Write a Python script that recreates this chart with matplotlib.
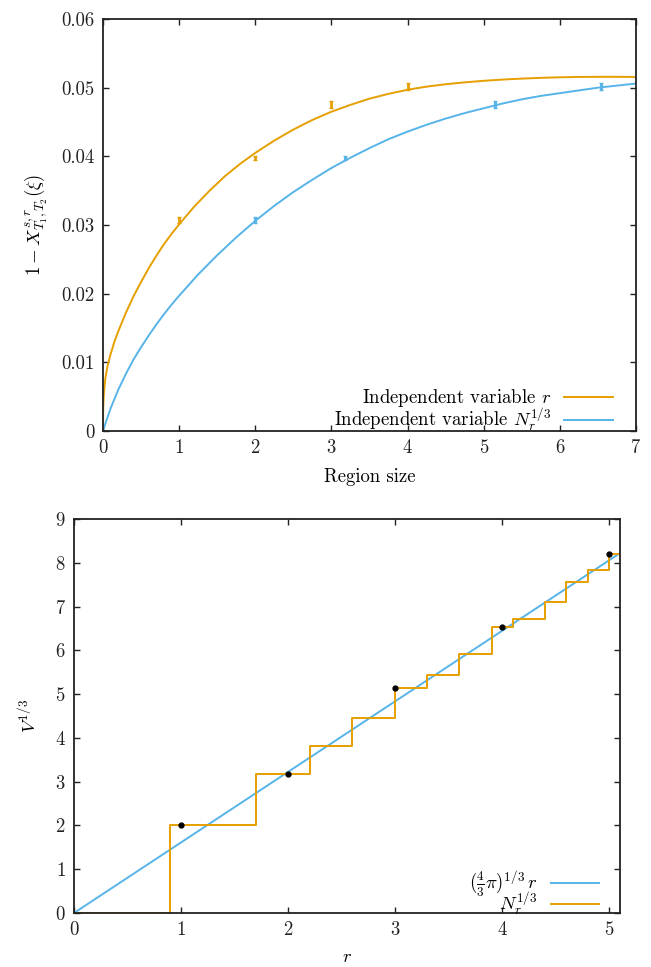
import matplotlib
matplotlib.use("Agg")
import matplotlib.pyplot as plt
import numpy as np

plt.rcParams["font.family"] = "serif"
plt.rcParams["font.serif"] = ["cmr10"]
plt.rcParams["mathtext.fontset"] = "cm"
plt.rcParams["axes.formatter.use_mathtext"] = True
plt.rcParams["font.size"] = 13.5

ORANGE = "#E69F00"
BLUE = "#56B4E9"

# measured deficit vs region size r = 1..4
r_sizes = np.array([1, 2, 3, 4])
deficit = np.array([0.0307, 0.0398, 0.0475, 0.0502])
deficit_err = np.array([0.0004, 0.0003, 0.0005, 0.0005])

# lattice point counts N_r inside radius r (step function)
r_edges = np.array([0, 0.9, 1.7, 2.2, 2.6, 3.0, 3.3, 3.6, 3.9, 4.1, 4.4, 4.6, 4.8, 5.0, 5.1])
N_counts = np.array([0, 8, 32, 56, 88, 136, 160, 208, 280, 304, 360, 432, 480, 552, 552])
N_at_r = np.array([8, 32, 136, 280, 552])   # N_r at r = 1..5

# fitted curve, independent variable r
fit_r_x = [0.0, 0.003, 0.01, 0.03, 0.06, 0.1, 0.15, 0.2, 0.3, 0.4, 0.5, 0.6, 0.7,
           0.8, 0.9, 1.0, 1.2, 1.4, 1.6, 1.8, 2.0, 2.25, 2.5, 2.75, 3.0, 3.25,
           3.5, 3.75, 4.0, 4.25, 4.5, 4.75, 5.0, 5.25, 5.5, 5.75, 6.0, 6.25,
           6.5, 6.75, 7.0]
fit_r_y = [0.0, 0.0033, 0.0052, 0.0076, 0.0095, 0.0112, 0.0130, 0.0145, 0.0172,
           0.0196, 0.0217, 0.0237, 0.0255, 0.0272, 0.0287, 0.0301, 0.0327, 0.0350,
           0.0371, 0.0389, 0.0405, 0.0423, 0.0439, 0.0453, 0.0465, 0.0475, 0.0484,
           0.0491, 0.0497, 0.05015, 0.0505, 0.05077, 0.05100, 0.05118, 0.05132,
           0.05143, 0.05151, 0.05156, 0.05158, 0.05158, 0.05156]

# fitted curve, independent variable N_r^(1/3)
fit_n_x = [0.0, 0.05, 0.1, 0.2, 0.3, 0.4, 0.5, 0.6, 0.7, 0.8, 0.9, 1.0, 1.25, 1.5,
           1.75, 2.0, 2.25, 2.5, 2.75, 3.0, 3.25, 3.5, 3.75, 4.0, 4.25, 4.5,
           4.75, 5.0, 5.25, 5.5, 5.75, 6.0, 6.25, 6.5, 6.75, 7.0]
fit_n_y = [0.0, 0.0017, 0.0033, 0.0060, 0.0083, 0.0104, 0.0122, 0.0139, 0.0155,
           0.0170, 0.0184, 0.0197, 0.0228, 0.0256, 0.0282, 0.0306, 0.0328, 0.0348,
           0.0366, 0.0383, 0.0398, 0.0412, 0.0425, 0.0436, 0.0446, 0.0455, 0.0463,
           0.0470, 0.0477, 0.0483, 0.0488, 0.0492, 0.0496, 0.0500, 0.0503, 0.0506]

sphere_coef = (4.0 / 3.0 * np.pi) ** (1.0 / 3.0)

fig = plt.figure(figsize=(6.51, 9.67), dpi=100)
ax1 = fig.add_axes([103 / 651, 1 - 431 / 967, 533 / 651, 412 / 967])
ax2 = fig.add_axes([74 / 651, 1 - 913 / 967, 546 / 651, 394 / 967])


def style(ax):
    ax.tick_params(direction="in", top=True, right=True, length=4, width=1,
                   colors="#222222", pad=6)
    for s in ax.spines.values():
        s.set_linewidth(1.3)
        s.set_color("#222222")


legend_kw = dict(loc="lower right", frameon=False, markerfirst=False,
                 handlelength=2.6, handletextpad=0.7, borderpad=0.0,
                 borderaxespad=0.0)

# top panel
ax1.plot(fit_r_x, fit_r_y, color=ORANGE, lw=1.4, label="Independent variable $r$")
ax1.plot(fit_n_x, fit_n_y, color=BLUE, lw=1.4,
         label="Independent variable $N_r^{1/3}$")
ax1.errorbar(r_sizes, deficit, yerr=deficit_err, fmt="none", ecolor=ORANGE,
             elinewidth=2, capsize=1.5, capthick=1)
ax1.errorbar(np.cbrt(N_at_r[:4]), deficit, yerr=deficit_err, fmt="none",
             ecolor=BLUE, elinewidth=2.2, capsize=1.5, capthick=1)
ax1.set_xlim(0, 7)
ax1.set_ylim(0, 0.06)
ax1.set_xticks(range(8))
ax1.set_yticks([0, 0.01, 0.02, 0.03, 0.04, 0.05, 0.06])
ax1.set_yticklabels(["0", "0.01", "0.02", "0.03", "0.04", "0.05", "0.06"])
ax1.set_xlabel("Region size", labelpad=8)
ax1.set_ylabel(r"$1 - X^{s,r}_{T_1,T_2}(\xi)$", labelpad=8)
style(ax1)
ax1.legend(bbox_to_anchor=(0.957, -0.008), labelspacing=-0.12, **legend_kw)

# bottom panel
ax2.plot([0, 5.1], [0, sphere_coef * 5.1], color=BLUE, lw=1.4,
         label=r"$(\frac{4}{3}\pi)^{1/3}\,r$")
ax2.step(r_edges, np.cbrt(N_counts), where="post", color=ORANGE, lw=1.4,
         label=r"$N_r^{1/3}$")
ax2.plot(np.arange(1, 6), np.cbrt(N_at_r), "o", color="black", ms=3.5)
ax2.set_xlim(0, 5.1)
ax2.set_ylim(0, 9)
ax2.set_xticks(range(6))
ax2.set_yticks(range(10))
ax2.set_xlabel("$r$", labelpad=6)
ax2.set_ylabel("$V^{1/3}$", labelpad=10)
style(ax2)
ax2.legend(bbox_to_anchor=(0.962, -0.012), labelspacing=-0.45, **legend_kw)

fig.savefig("out.png", dpi=100)
